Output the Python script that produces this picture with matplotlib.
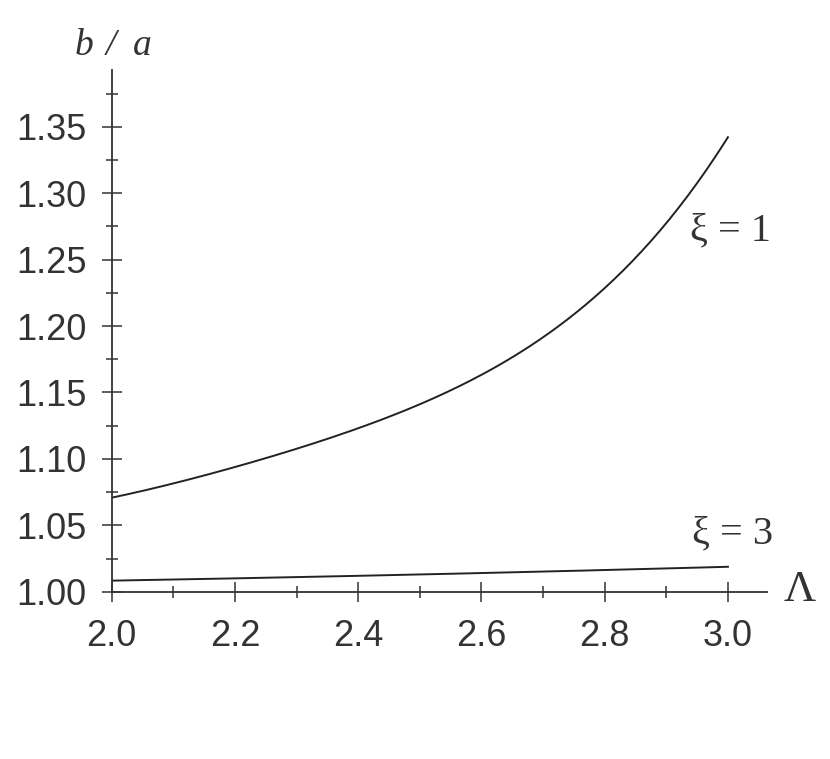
import matplotlib
matplotlib.use("Agg")
import matplotlib.pyplot as plt
import numpy as np
from matplotlib.ticker import MultipleLocator, FormatStrFormatter

# Data
lam_xi1 = [2.0, 2.1, 2.2, 2.3, 2.4, 2.5, 2.6, 2.7, 2.8, 2.9, 3.0]
ratio_xi1 = [1.071, 1.081, 1.094, 1.108, 1.123, 1.141, 1.163, 1.192, 1.228, 1.278, 1.342]
lam_xi3 = [2.0, 2.2, 2.4, 2.6, 2.8, 3.0]
ratio_xi3 = [1.0083, 1.0101, 1.0120, 1.0140, 1.0163, 1.0188]

xticks = [2.0, 2.2, 2.4, 2.6, 2.8, 3.0]
yticks = [1.00, 1.05, 1.10, 1.15, 1.20, 1.25, 1.30, 1.35]

col = "#333333"
fig = plt.figure(figsize=(8.3, 7.59), dpi=100)
ax = fig.add_axes([0.1346, 0.2204, 0.7892, 0.6873])

# smooth curves through the read points
xs = np.linspace(2.0, 3.0, 200)
c1 = np.polyfit(lam_xi1, ratio_xi1, 4)
c3 = np.polyfit(lam_xi3, ratio_xi3, 2)
ax.plot(xs, np.polyval(c1, xs), color="#222222", lw=1.4)
ax.plot(xs, np.polyval(c3, xs), color="#222222", lw=1.4)

ax.set_xlim(2.0, 3.063)
ax.set_ylim(1.0, 1.3927)
for s in ["top", "right"]:
    ax.spines[s].set_visible(False)
for s in ["left", "bottom"]:
    ax.spines[s].set_color(col)
    ax.spines[s].set_linewidth(1.3)

ax.set_xticks(xticks)
ax.set_yticks(yticks)
ax.xaxis.set_minor_locator(MultipleLocator(0.1))
ax.yaxis.set_minor_locator(MultipleLocator(0.025))
ax.xaxis.set_major_formatter(FormatStrFormatter("%.1f"))
ax.yaxis.set_major_formatter(FormatStrFormatter("%.2f"))
ax.tick_params(which="major", direction="inout", length=14.4, width=1.1, color=col,
               labelsize=26, labelcolor=col)
ax.tick_params(which="minor", direction="inout", length=8.2, width=1.1, color=col)
ax.tick_params(axis="x", which="major", pad=12.2)
ax.tick_params(axis="y", which="major", pad=11)
for lab in ax.get_xticklabels() + ax.get_yticklabels():
    lab.set_family("Liberation Sans")

serif = "Liberation Serif"
for txt, xp in [("b", 75), ("/", 106), ("a", 133)]:
    fig.text(xp/830, 1 - 55/759, txt, family=serif, style="italic", fontsize=27,
             color=col, ha="left", va="baseline")
fig.text(690/830, 1 - 240/759, "ξ = 1", family=serif, fontsize=29, color=col,
         ha="left", va="baseline")
fig.text(692/830, 1 - 543/759, "ξ = 3", family=serif, fontsize=29, color=col,
         ha="left", va="baseline")
fig.text(784/830, 1 - 601/759, "Λ", family=serif, fontsize=32, color=col,
         ha="left", va="baseline")

fig.savefig("out.png", dpi=100)
